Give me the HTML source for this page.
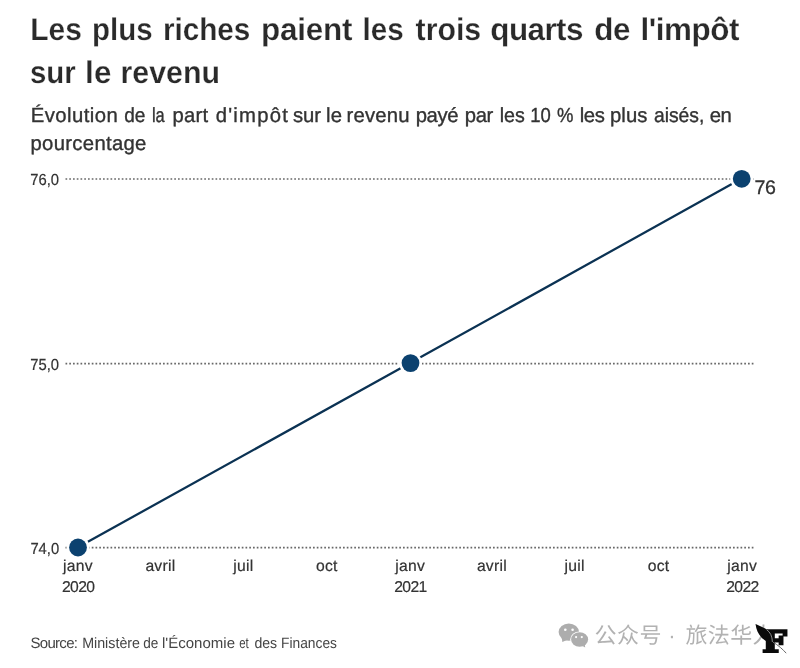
<!DOCTYPE html>
<html lang="fr">
<head>
<meta charset="utf-8">
<title>Les plus riches paient les trois quarts de l'impôt sur le revenu</title>
<style>
  html, body { margin: 0; padding: 0; background: #fff; }
  body { width: 800px; height: 668px; position: relative; overflow: hidden;
         font-family: "Liberation Sans", sans-serif; color: #333; }
  svg { position: absolute; left: 0; top: 0; }
  svg text { font-family: "Liberation Sans", sans-serif; fill: #333; text-rendering: geometricPrecision; }
  #sub1, #sub2 { stroke: #333; stroke-width: 0.35px; }
  .title { font-weight: bold; fill: #2a2a2a; stroke: #fff; stroke-width: 0.25px; }
  .axis text { font-size: 15.7px; stroke: #333; stroke-width: 0.2px; }
  .ylab text { font-size: 16.1px; }
  svg text.wm { font-family: "Liberation Sans", "Noto Sans CJK SC", sans-serif; fill: #b2b2b2; }
  svg text.logo { font-family: "DejaVu Serif", "Liberation Serif", serif; font-weight: bold; fill: #0a0a0a; }
</style>
</head>
<body>
<svg width="800" height="668" viewBox="0 0 800 668">
  <!-- headline -->
  <text id="title1" class="title" x="30.35" y="40.3" font-size="31.4" letter-spacing="0" word-spacing="0"><tspan x="30.2" textLength="51.62" lengthAdjust="spacingAndGlyphs">Les</tspan> <tspan x="92.05" textLength="60.5" lengthAdjust="spacingAndGlyphs">plus</tspan> <tspan x="162.9" textLength="87.5" lengthAdjust="spacingAndGlyphs">riches</tspan> <tspan x="260.95" textLength="91.58" lengthAdjust="spacing">paient</tspan> <tspan x="362.5" textLength="41.13" lengthAdjust="spacingAndGlyphs">les</tspan> <tspan x="415.6" textLength="65.62" lengthAdjust="spacingAndGlyphs">trois</tspan> <tspan x="490.25" textLength="93.2" lengthAdjust="spacing">quarts</tspan> <tspan x="594.25" textLength="36.14" lengthAdjust="spacing">de</tspan> <tspan x="640.45" textLength="99" lengthAdjust="spacing">l'impôt</tspan></text>
  <text id="title2" class="title" x="30.1" y="83.25" font-size="31.4" letter-spacing="0" word-spacing="0"><tspan x="29.95" textLength="45.78" lengthAdjust="spacingAndGlyphs">sur</tspan> <tspan x="85" textLength="26.48" lengthAdjust="spacing">le</tspan> <tspan x="120.5" textLength="99.5" lengthAdjust="spacingAndGlyphs">revenu</tspan></text>

  <!-- subtitle -->
  <text id="sub1" x="30.5" y="122.3" font-size="20.3" letter-spacing="0" word-spacing="0"><tspan x="30.75" textLength="87.06" lengthAdjust="spacing">Évolution</tspan> <tspan x="124.25" textLength="21.22" lengthAdjust="spacingAndGlyphs">de</tspan> <tspan x="151.95" textLength="12.81" lengthAdjust="spacingAndGlyphs">la</tspan> <tspan x="172.4" textLength="35.83" lengthAdjust="spacing">part</tspan> <tspan x="215.75" textLength="72.14" lengthAdjust="spacing">d'impôt</tspan> <tspan x="292.9" textLength="28.03" lengthAdjust="spacing">sur</tspan> <tspan x="326" textLength="16.08" lengthAdjust="spacing">le</tspan> <tspan x="346.5" textLength="63.06" lengthAdjust="spacing">revenu</tspan> <tspan x="415.75" textLength="42.68" lengthAdjust="spacing">payé</tspan> <tspan x="464.75" textLength="28.64" lengthAdjust="spacing">par</tspan> <tspan x="499.75" textLength="25.13" lengthAdjust="spacingAndGlyphs">les</tspan> <tspan x="530.3" textLength="20.58" lengthAdjust="spacingAndGlyphs">10</tspan> <tspan x="557.1" textLength="16.44" lengthAdjust="spacingAndGlyphs">%</tspan> <tspan x="579.65" textLength="25.29" lengthAdjust="spacing">les</tspan> <tspan x="610" textLength="37.48" lengthAdjust="spacing">plus</tspan> <tspan x="653.9" textLength="50.47" lengthAdjust="spacingAndGlyphs">aisés,</tspan> <tspan x="709.65" textLength="22.14" lengthAdjust="spacing">en</tspan></text>
  <text id="sub2" x="30.5" y="149.6" font-size="20.3" letter-spacing="0" word-spacing="0"><tspan x="30.5" textLength="115.87" lengthAdjust="spacing">pourcentage</tspan></text>

  <!-- grid -->
  <g stroke="#686868" stroke-width="1.6" stroke-dasharray="1.7 2.05" fill="none">
    <line x1="65.5" y1="179" x2="755" y2="179"/>
    <line x1="65.5" y1="363.6" x2="755" y2="363.6"/>
    <line x1="65.5" y1="547.6" x2="755" y2="547.6"/>
  </g>
  <g class="axis ylab">
    <text x="30.2" y="185.3" textLength="28.8" lengthAdjust="spacingAndGlyphs">76,0</text>
    <text x="30.2" y="370.1" textLength="28.8" lengthAdjust="spacingAndGlyphs">75,0</text>
    <text x="30.4" y="554" textLength="28.8" lengthAdjust="spacingAndGlyphs">74,0</text>
  </g>

  <!-- series -->
  <polyline points="78,547.25 410.5,362.85 741.7,178.55" fill="none" stroke="#fff" stroke-opacity="0.8" stroke-width="4.6"/>
  <polyline points="78,547.25 410.5,362.85 741.7,178.55" fill="none" stroke="#0b3253" stroke-width="2.25"/>
  <g fill="#fff">
    <circle cx="78" cy="547.5" r="11.5"/>
    <circle cx="410.5" cy="363.1" r="11.5"/>
    <circle cx="741.7" cy="178.8" r="11.5"/>
  </g>
  <g fill="#0b416f">
    <circle cx="78" cy="547.5" r="8.9"/>
    <circle cx="410.5" cy="363.1" r="8.9"/>
    <circle cx="741.7" cy="178.8" r="8.9"/>
  </g>
  <text x="754.6" y="193.6" font-size="19.6" letter-spacing="-0.4" stroke="#333" stroke-width="0.3">76</text>

  <!-- x axis -->
  <g class="axis" text-anchor="middle" letter-spacing="0.25">
    <text x="78" y="571.4">janv</text>
    <text x="160.4" y="571.4">avril</text>
    <text x="243.3" y="571.4">juil</text>
    <text x="326.8" y="571.4">oct</text>
    <text x="410.2" y="571.4">janv</text>
    <text x="491.9" y="571.4">avril</text>
    <text x="574.6" y="571.4">juil</text>
    <text x="658.6" y="571.4">oct</text>
    <text x="742.2" y="571.4">janv</text>
    <g letter-spacing="-0.6">
      <text x="78.2" y="592.1">2020</text>
      <text x="410.4" y="592.1">2021</text>
      <text x="742.4" y="592.1">2022</text>
    </g>
  </g>

  <!-- source -->
  <text id="src" x="30.4" y="647.5" font-size="15" letter-spacing="0" word-spacing="0" style="fill:#444"><tspan x="30.55" textLength="47.4" lengthAdjust="spacing">Source:</tspan> <tspan x="82.15" textLength="57.87" lengthAdjust="spacingAndGlyphs">Ministère</tspan> <tspan x="143.2" textLength="15.15" lengthAdjust="spacingAndGlyphs">de</tspan> <tspan x="161.95" textLength="73.06" lengthAdjust="spacing">l'Économie</tspan> <tspan x="239.25" textLength="9.53" lengthAdjust="spacingAndGlyphs">et</tspan> <tspan x="254.4" textLength="22.75" lengthAdjust="spacingAndGlyphs">des</tspan> <tspan x="281" textLength="55.97" lengthAdjust="spacingAndGlyphs">Finances</tspan></text>

  <!-- watermark -->
  <g fill="#adadad">
    <ellipse cx="568.8" cy="632.1" rx="10.2" ry="8.7"/>
    <path d="M561.8 638 L562.3 642 L567 640 Z"/>
    <ellipse cx="579.6" cy="639.5" rx="9.4" ry="8.1" fill="#fff"/>
    <ellipse cx="579.6" cy="639.5" rx="8.5" ry="7.3"/>
    <path d="M582.5 646 L585.2 647.6 L584.8 644.6 Z"/>
    <g fill="#fff">
      <circle cx="565.3" cy="629.8" r="1.3"/>
      <circle cx="572.6" cy="629.7" r="1.3"/>
      <circle cx="576.1" cy="637.1" r="1.1"/>
      <circle cx="581.8" cy="637.1" r="1.1"/>
    </g>
  </g>
  <text class="wm" y="642.9" font-size="22" letter-spacing="0.4"><tspan x="594.6">公众号</tspan> <tspan x="668.2">·</tspan> <tspan x="685.4">旅法华人</tspan></text>

  <!-- logo -->
  <text class="logo" transform="translate(762.2 652.1) scale(1.16 1)" font-size="29.6" stroke="#0a0a0a" stroke-width="2.2" stroke-linejoin="miter">F</text>
  <path d="M755.5 624 C758.5 625.6 764 627.4 768.2 630.3 C771.2 632.4 772.6 636 772.8 642.2 C769 643.3 765 641 761.5 637.4 C758 633.8 756.3 629.5 755.5 624 Z" fill="#0a0a0a"/>
  <path d="M766.5 629.6 C770.3 632.2 772.2 636 772.4 642" fill="none" stroke="#9a9a9a" stroke-width="0.9"/>
  <path d="M773 642.2 C778 645 783 649.5 786.2 653.2" fill="none" stroke="#6a6a6a" stroke-width="1"/>
</svg>
</body>
</html>
